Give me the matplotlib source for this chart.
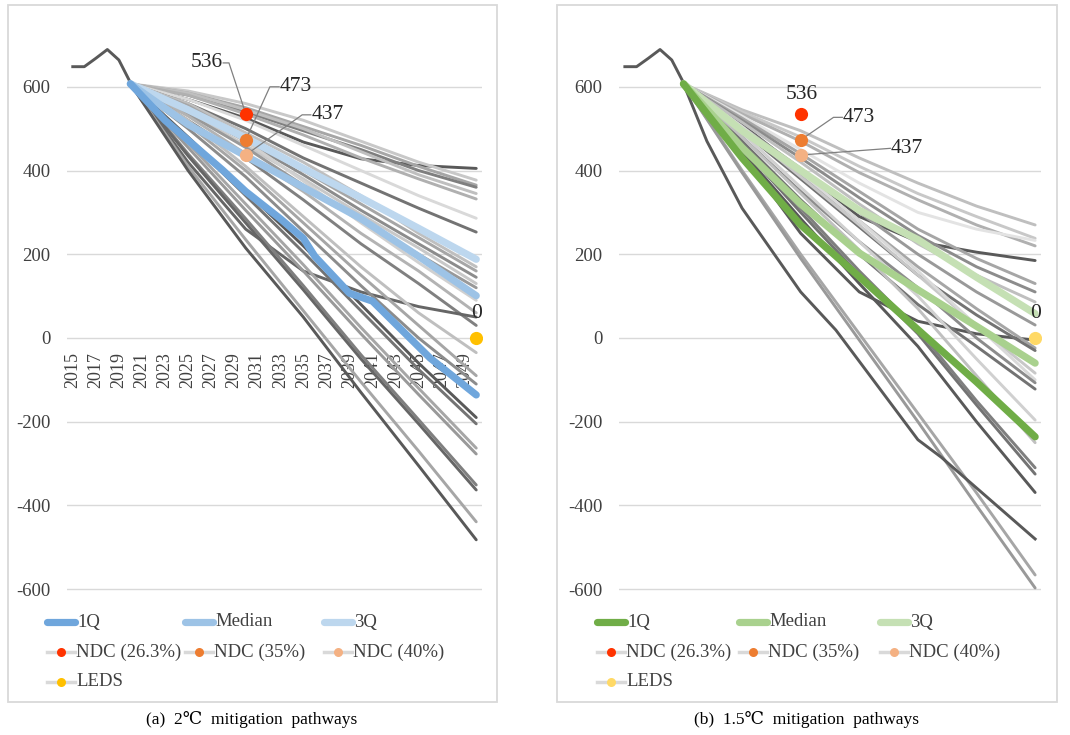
import matplotlib
matplotlib.use("Agg")
import matplotlib.pyplot as plt
from matplotlib.lines import Line2D
from matplotlib.patches import Rectangle

plt.rcParams['font.family'] = ['Liberation Serif', 'DejaVu Serif', 'Noto Sans CJK SC']

# ---------------- data ----------------
years = list(range(2015, 2051))
year_tick_labels = [str(y) for y in range(2015, 2051, 2)]
y_ticks = [-600, -400, -200, 0, 200, 400, 600]

hist_years = [2015, 2016, 2017, 2018, 2019, 2020]
hist_values = [648, 648, 668, 689, 664, 610]

path_years = [2020, 2025, 2030, 2035, 2040, 2045, 2050]

# (a) 2 degC pathways (gray scenario lines)
a_gray = [
    [607, 570, 525, 468, 428, 412, 405],
    [607, 590, 560, 520, 470, 420, 377],
    [607, 585, 550, 505, 460, 410, 365],
    [607, 580, 540, 495, 450, 400, 360],
    [607, 585, 545, 500, 445, 390, 345],
    [607, 580, 535, 485, 430, 380, 332],
    [607, 570, 520, 460, 400, 340, 286],
    [607, 560, 500, 430, 370, 310, 253],
    [607, 560, 490, 420, 340, 250, 170],
    [607, 555, 480, 400, 320, 240, 160],
    [607, 545, 470, 390, 305, 225, 145],
    [607, 540, 460, 380, 295, 215, 130],
    [607, 535, 455, 365, 280, 200, 120],
    [607, 550, 470, 375, 275, 180, 90],
    [607, 530, 440, 350, 250, 160, 60],
    [607, 520, 430, 330, 225, 130, 30],
    [607, 420, 260, 160, 110, 75, 50],
    [607, 520, 410, 290, 170, 60, -35],
    [607, 510, 400, 275, 150, 30, -90],
    [607, 500, 385, 255, 125, 0, -110],
    [607, 480, 350, 220, 80, -60, -190],
    [607, 475, 340, 205, 65, -75, -205],
    [607, 465, 320, 175, 25, -120, -263],
    [607, 455, 305, 160, 10, -135, -277],
    [607, 440, 285, 125, -40, -195, -351],
    [607, 435, 275, 115, -50, -205, -363],
    [607, 410, 235, 65, -105, -270, -439],
    [607, 400, 215, 50, -130, -305, -482],
]
a_q1_years = [2020, 2023, 2028, 2030, 2033, 2035, 2036, 2039, 2041, 2046, 2050]
a_q1 = [607, 520, 401, 350, 285, 238, 195, 107, 88, -48, -136]
a_median = [607, 510, 435, 360, 285, 195, 101]
a_q3 = [607, 545, 478, 405, 335, 262, 188]

# (b) 1.5 degC pathways
b_gray = [
    [607, 545, 495, 430, 370, 315, 270],
    [607, 540, 480, 410, 345, 290, 238],
    [607, 535, 470, 395, 330, 270, 220],
    [607, 510, 400, 290, 230, 205, 185],
    [607, 530, 450, 370, 300, 260, 233],
    [607, 525, 440, 350, 260, 190, 130],
    [607, 520, 430, 335, 245, 170, 110],
    [607, 515, 420, 320, 225, 150, 86],
    [607, 505, 405, 300, 200, 110, 31],
    [607, 440, 250, 110, 40, 10, -5],
    [607, 500, 390, 280, 170, 70, -24],
    [607, 495, 380, 265, 150, 55, -30],
    [607, 500, 385, 270, 150, 30, -84],
    [607, 505, 395, 280, 160, 30, -100],
    [607, 480, 350, 230, 120, 0, -107],
    [607, 470, 330, 200, 80, -20, -122],
    [607, 490, 360, 230, 100, -50, -196],
    [607, 480, 345, 210, 70, -90, -250],
    [607, 460, 310, 160, 20, -150, -310],
    [607, 455, 300, 150, 10, -160, -325],
    [607, 445, 285, 130, -20, -200, -369],
    [607, 400, 200, 10, -180, -370, -566],
    [607, 395, 190, -5, -200, -400, -597],
]
b_dark_years = [2020, 2022, 2025, 2028, 2030, 2033, 2040, 2042, 2050]
b_dark = [607, 470, 310, 190, 110, 19, -243, -285, -480]
b_q1 = [607, 430, 270, 146, 20, -105, -236]
b_median = [607, 455, 320, 203, 115, 28, -60]
b_q3 = [607, 495, 400, 305, 235, 145, 58]

ndc_year = 2030
ndc_labels = ['NDC (26.3%)', 'NDC (35%)', 'NDC (40%)']
ndc_values = [536, 473, 437]
leds_year = 2050
leds_value = 0
quartile_labels = ['1Q', 'Median', '3Q']
captions = ['(a)  2\u2103  mitigation  pathways', '(b)  1.5\u2103  mitigation  pathways']

# ---------------- styles ----------------
a_gray_colors = ['#595959', '#c8c8c8', '#a6a6a6', '#7f7f7f', '#bfbfbf', '#b0b0b0', '#d9d9d9',
                 '#737373', '#bfbfbf', '#a6a6a6', '#8c8c8c', '#c8c8c8', '#999999', '#d0d0d0',
                 '#b3b3b3', '#808080', '#666666', '#bfbfbf', '#a6a6a6', '#8c8c8c', '#595959',
                 '#737373', '#a6a6a6', '#999999', '#7f7f7f', '#666666', '#a6a6a6', '#595959']
b_gray_colors = ['#bfbfbf', '#c8c8c8', '#b0b0b0', '#595959', '#e3e3e3', '#a6a6a6', '#8c8c8c',
                 '#bfbfbf', '#999999', '#595959', '#a6a6a6', '#737373', '#c8c8c8', '#d9d9d9',
                 '#8c8c8c', '#737373', '#d0d0d0', '#c0c0c0', '#7f7f7f', '#737373', '#595959',
                 '#a6a6a6', '#999999']
a_qcolors = ['#6fa6dc', '#9dc3e6', '#bdd7ee']
b_qcolors = ['#70ad47', '#a9d18e', '#c5e0b4']
ndc_colors = ['#ff3300', '#ed7d31', '#f4b183']
a_leds_color = '#ffc000'
b_leds_color = '#ffd966'

W, H = 1070, 735
fig = plt.figure(figsize=(W / 100, H / 100), dpi=100)


def fx(px):
    return px / W


def fy(py):
    return 1 - py / H


Y_TOP, Y_BOT = 760, -610
PX_PER_UNIT = 0.4187


def ypx(v):
    return 338 - v * PX_PER_UNIT


def make_axes(x0, x1):
    top = ypx(Y_TOP)
    bot = ypx(Y_BOT)
    ax = fig.add_axes([fx(x0), fy(bot), fx(x1 - x0), (bot - top) / H])
    ax.set_xlim(-0.5, len(years) - 0.5)
    ax.set_ylim(Y_BOT, Y_TOP)
    for s in ax.spines.values():
        s.set_visible(False)
    ax.set_yticks(y_ticks)
    ax.set_yticklabels([str(t) for t in y_ticks], fontsize=13.5, color='#404040')
    ax.tick_params(axis='y', length=0, pad=12)
    ax.yaxis.grid(True, color='#d9d9d9', lw=1.0)
    ax.set_axisbelow(True)
    return ax


def idx(year_list):
    return [y - years[0] for y in year_list]


def draw_panel(ax, gray, gray_colors, q1_years, q1, med, q3, qcolors, leds_color, extra=None):
    for vals, c in zip(gray, gray_colors):
        ax.plot(idx(path_years), vals, color=c, lw=2.1, solid_capstyle='round', zorder=2)
    if extra is not None:
        ax.plot(idx(extra[0]), extra[1], color=extra[2], lw=2.1, zorder=2)
    ax.plot(idx(hist_years), hist_values, color='#595959', lw=2.1, zorder=3)
    ax.plot(idx(path_years), q3, color=qcolors[2], lw=5.2, solid_capstyle='round', zorder=4)
    ax.plot(idx(path_years), med, color=qcolors[1], lw=5.2, solid_capstyle='round', zorder=5)
    ax.plot(idx(q1_years), q1, color=qcolors[0], lw=5.2, solid_capstyle='round', zorder=6)
    x_ndc = ndc_year - years[0]
    for v, c in zip(ndc_values, ndc_colors):
        ax.plot([x_ndc], [v], 'o', ms=9.5, color=c, mec='none', zorder=8)
    ax.plot([leds_year - years[0]], [leds_value], 'o', ms=9.5, color=leds_color, mec='none', zorder=8)
    ax.text(leds_year - years[0] + 0.05, leds_value + 35, str(leds_value), fontsize=15.5,
            ha='center', va='bottom', color='#262626', zorder=9)


# ----- panel (a) -----
axa = make_axes(67, 482)
draw_panel(axa, a_gray, a_gray_colors, a_q1_years, a_q1, a_median, a_q3, a_qcolors, a_leds_color)
axa.spines['bottom'].set_position(('data', 0))
axa.set_xticks([y - years[0] for y in range(2015, 2051, 2)])
axa.set_xticklabels(year_tick_labels, rotation=90, fontsize=13, color='#404040')
axa.tick_params(axis='x', length=0, pad=10)
for lab in axa.get_xticklabels():
    lab.set_zorder(1)

lead = dict(color='#808080', lw=0.9, zorder=7)
xn = ndc_year - years[0]
# 536
axa.plot([13.05, 13.55, xn], [657, 657, ndc_values[0]], **lead)
axa.text(13.0, 657, str(ndc_values[0]), fontsize=15.5, ha='right', va='center', color='#262626', zorder=9)
# 473
axa.plot([17.9, 17.1, xn], [600, 600, ndc_values[1]], **lead)
axa.text(17.95, 600, str(ndc_values[1]), fontsize=15.5, ha='left', va='center', color='#262626', zorder=9)
# 437
axa.plot([20.65, 19.9, xn], [533, 533, ndc_values[2]], **lead)
axa.text(20.7, 533, str(ndc_values[2]), fontsize=15.5, ha='left', va='center', color='#262626', zorder=9)

# ----- panel (b) -----
axb = make_axes(619, 1041)
draw_panel(axb, b_gray, b_gray_colors, path_years, b_q1, b_median, b_q3, b_qcolors, b_leds_color,
           extra=(b_dark_years, b_dark, '#595959'))
axb.set_xticks([])
axb.text(xn + 0.1, 560, str(ndc_values[0]), fontsize=15.5, ha='center', va='bottom', color='#262626', zorder=9)
axb.plot([18.55, 17.8, xn], [527, 527, ndc_values[1]], **lead)
axb.text(18.6, 527, str(ndc_values[1]), fontsize=15.5, ha='left', va='center', color='#262626', zorder=9)
axb.plot([22.65, xn], [453, ndc_values[2]], **lead)
axb.text(22.7, 453, str(ndc_values[2]), fontsize=15.5, ha='left', va='center', color='#262626', zorder=9)


# ----- legends (drawn in figure coordinates) -----
def legend(col_x, qcolors, leds_color):
    rows = [622, 652, 682]
    for i in range(3):
        x0 = col_x[i]
        fig.add_artist(Line2D([fx(x0 + 2), fx(x0 + 30)], [fy(rows[0]), fy(rows[0])],
                              color=qcolors[i], lw=5.2, solid_capstyle='round'))
        fig.text(fx(x0 + 32), fy(rows[0]), quartile_labels[i], fontsize=13.5,
                 ha='left', va='center', color='#404040')
    marker_entries = [(ndc_labels[0], ndc_colors[0], 0, 1), (ndc_labels[1], ndc_colors[1], 1, 1),
                      (ndc_labels[2], ndc_colors[2], 2, 1), ('LEDS', leds_color, 0, 2)]
    for lab, c, col, r in marker_entries:
        x0 = col_x[col]
        yy = fy(rows[r])
        fig.add_artist(Line2D([fx(x0 + 2), fx(x0 + 30)], [yy, yy], color='#d9d9d9', lw=2.5))
        fig.add_artist(Line2D([fx(x0 + 16)], [yy], marker='o', ms=6.5, color=c, mec='none', lw=0))
        fig.text(fx(x0 + 31), yy, lab, fontsize=13.5, ha='left', va='center', color='#404040')


legend([45, 183, 322], a_qcolors, a_leds_color)
legend([595, 737, 878], b_qcolors, b_leds_color)

# ----- panel frames & captions -----
for x0, x1 in [(8, 497), (557, 1057)]:
    fig.add_artist(Rectangle((fx(x0), fy(702)), fx(x1 - x0), 697 / H, fill=False,
                             edgecolor='#d9d9d9', lw=1.3))
fig.text(fx(252), fy(719), captions[0], fontsize=12.5, ha='center', va='center', color='#000000')
fig.text(fx(807), fy(719), captions[1], fontsize=12.5, ha='center', va='center', color='#000000')

fig.savefig('out.png', dpi=100)
